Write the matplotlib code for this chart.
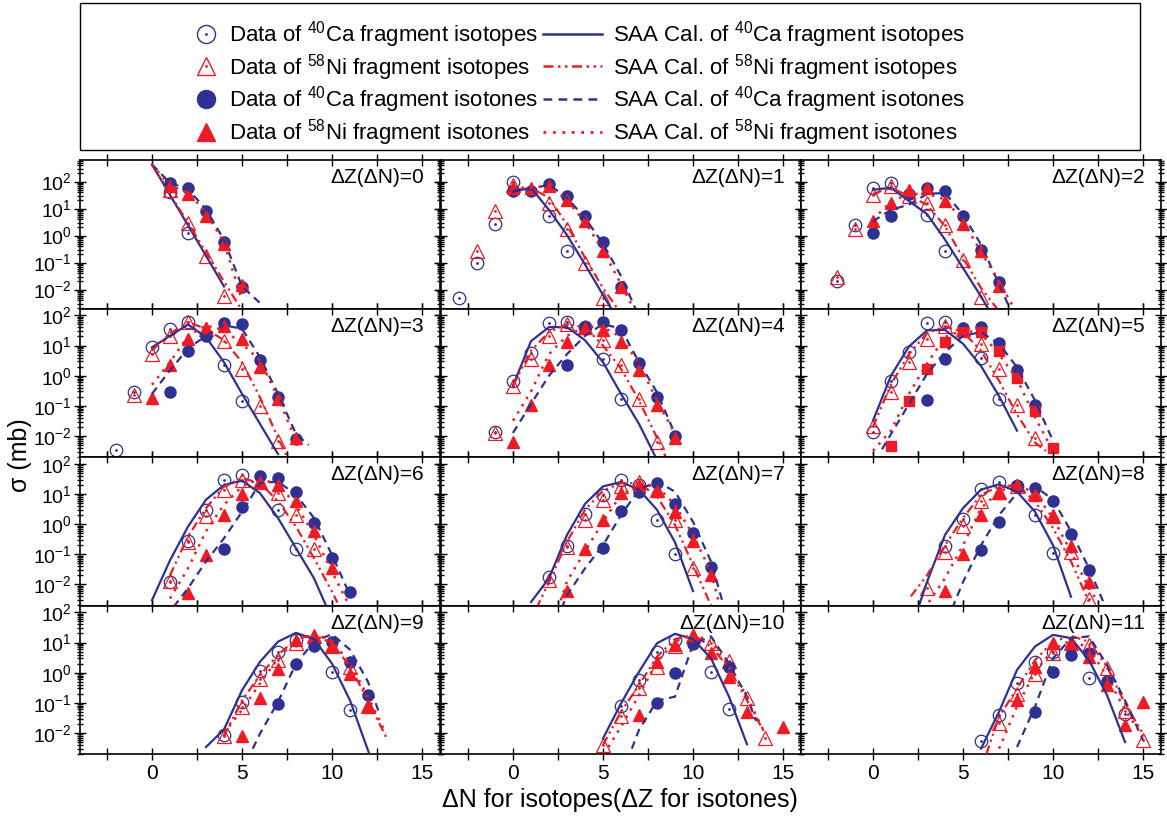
import matplotlib
matplotlib.use("Agg")
import matplotlib.pyplot as plt
import matplotlib.patches as patches
from matplotlib.lines import Line2D
from matplotlib.legend_handler import HandlerTuple
from matplotlib.ticker import MultipleLocator, LogLocator, NullFormatter
import numpy as np

plt.rcParams["font.family"] = ["Liberation Sans", "DejaVu Sans"]
plt.rcParams["mathtext.fontset"] = "custom"
plt.rcParams["mathtext.rm"] = "Liberation Sans"
plt.rcParams["mathtext.it"] = "Liberation Sans:italic"
plt.rcParams["mathtext.bf"] = "Liberation Sans:bold"

BLUE = "#2e3192"
RED = "#ed1c24"

dz = list(range(12))

# measured data, one list per panel (dZ or dN = 0..11)
ca_iso_x = [[1, 2], [-3, -2, -1, 0, 2, 3], [-2, -1, 0, 1, 3, 4], [-2, -1, 0, 1, 2, 4, 5],
            [-1, 0, 1, 2, 3, 4, 5, 6], [0, 1, 2, 3, 4, 6, 7], [1, 2, 3, 4, 5, 7, 8],
            [2, 3, 4, 5, 6, 7, 8, 9], [4, 5, 6, 7, 8, 9, 10], [4, 5, 6, 7, 8, 10, 11],
            [6, 7, 8, 9, 11, 12], [6, 7, 8, 9, 10, 12, 14]]
ca_iso_y = [[40, 1.3], [0.005, 0.1, 2.7, 100, 5.5, 0.26], [0.02, 2.4, 58, 89, 6, 0.28],
            [0.0034, 0.28, 8.8, 36, 60, 2.3, 0.14], [0.0136, 0.65, 5.5, 55, 60, 40, 3.6, 0.17],
            [0.0136, 0.65, 6, 55, 60, 3.9, 0.17], [0.0123, 0.28, 3.0, 30, 44, 3.0, 0.15],
            [0.018, 0.19, 2.1, 9, 30, 20, 1.4, 0.1], [0.19, 1.5, 15, 25, 18, 2.0, 0.11],
            [0.0083, 0.11, 1.15, 5, 12, 1.07, 0.057], [0.078, 0.57, 5, 11.7, 1.07, 0.064],
            [0.0054, 0.039, 0.47, 2.2, 5, 0.69, 0.044]]

ni_iso_x = [[1, 2, 3, 4], [-2, -1, 0, 2, 3, 4, 5], [-2, -1, 0, 1, 2, 3, 4, 5, 6],
            [-1, 0, 1, 2, 3, 4, 5, 6, 7], [-1, 0, 1, 2, 3, 4, 5, 6, 7, 8],
            [0, 1, 2, 3, 4, 5, 6, 7, 8, 9], [1, 2, 3, 4, 5, 6, 7, 8, 9],
            [2, 3, 4, 5, 6, 7, 8, 9, 10], [3, 4, 5, 6, 7, 8, 9, 10, 11, 12],
            [4, 5, 6, 7, 8, 9, 10, 11, 12], [5, 6, 7, 8, 9, 10, 11, 12, 13, 14],
            [7, 8, 9, 10, 11, 12, 13, 14, 15]]
ni_iso_y = [[50, 2.9, 0.18, 0.006], [0.26, 8.5, 78, 16, 1.8, 0.1, 0.005],
            [0.03, 1.7, 33, 70, 29, 16, 2.4, 0.13, 0.0052],
            [0.23, 5.3, 21, 60, 35, 14, 1.7, 0.1, 0.0068],
            [0.0125, 0.47, 3.6, 21, 53, 41, 15, 2.3, 0.17, 0.0065],
            [0.021, 0.28, 2.8, 17, 43, 35, 11.5, 1.7, 0.11, 0.0083],
            [0.013, 0.25, 1.8, 14, 30, 26, 10.8, 2.0, 0.15],
            [0.014, 0.17, 1.4, 6.5, 18, 25, 14, 1.4, 0.036],
            [0.0078, 0.12, 0.87, 5.7, 12, 18, 10.8, 1.8, 0.12, 0.0032],
            [0.0078, 0.07, 0.6, 2.6, 9.5, 16, 7.7, 1.6, 0.078],
            [0.0039, 0.036, 0.3, 1.6, 7.4, 16, 9.5, 2.5, 0.14, 0.0069],
            [0.021, 0.19, 0.9, 4.4, 10, 8.3, 1.4, 0.054, 0.0058]]

ca_ton_x = [[1, 2, 3, 4, 5], [0, 1, 2, 3, 4, 5, 6], [0, 1, 2, 3, 4, 5, 6, 7],
            [1, 2, 3, 4, 5, 6, 7, 8], [3, 4, 5, 6, 7, 8, 9], [3, 4, 5, 6, 7, 8, 9],
            [4, 5, 6, 7, 8, 9, 10, 11], [5, 6, 7, 8, 9, 10, 11], [6, 7, 8, 9, 10, 11, 12],
            [7, 8, 9, 10, 11, 12], [8, 9, 10, 12], [9, 10, 11, 12, 13]]
ca_ton_y = [[90, 59, 8, 0.6, 0.013], [46, 46, 82, 29, 5.3, 0.6, 0.013],
            [1.3, 5.5, 35, 58, 46, 5.3, 0.3, 0.019], [0.28, 6.5, 21, 57, 50, 3.3, 0.19, 0.0077],
            [2.3, 41, 60, 33, 2.6, 0.2, 0.01], [0.15, 3.6, 39, 41, 12, 1.5, 0.11],
            [0.15, 3.6, 39, 33, 12, 1.07, 0.074, 0.0054], [0.16, 2.8, 12, 23, 4.6, 0.5, 0.039],
            [0.14, 1.2, 18, 16, 5.7, 0.47, 0.03], [0.091, 2.0, 7.7, 10.8, 2.2, 0.18],
            [0.1, 1.0, 8.8, 1.6], [0.05, 1.07, 3.9, 4.6, 0.54]]

ni_ton_x = [[1, 2, 3, 4, 5], [0, 1, 2, 3, 4, 5, 6], [0, 1, 2, 3, 4, 5, 6, 7],
            [0, 1, 2, 3, 4, 5, 6, 7, 8], [0, 1, 2, 3, 4, 5, 6, 7, 8, 9],
            [1, 2, 3, 4, 5, 6, 7, 8, 9, 10], [2, 3, 4, 5, 6, 7, 8, 9, 10],
            [3, 4, 5, 6, 7, 8, 9, 10, 11], [4, 5, 6, 7, 8, 9, 10, 11, 12],
            [5, 6, 7, 8, 9, 10, 11, 12], [7, 8, 9, 10, 11, 12, 13, 15],
            [8, 9, 10, 11, 12, 13, 14, 15]]
ni_ton_y = [[67, 35, 5.3, 0.47, 0.015], [58, 58, 71, 21, 3.4, 0.28, 0.013],
            [3.4, 16, 50, 58, 19, 2.6, 0.28, 0.014],
            [0.18, 2.2, 17, 39, 43, 16, 2, 0.17, 0.0083],
            [0.0065, 0.11, 2.3, 13, 39, 33, 13, 1.5, 0.11, 0.0088],
            [0.0047, 0.14, 1.7, 13, 28, 28, 6.8, 0.83, 0.065, 0.0039],
            [0.005, 0.095, 2.0, 10, 26, 19.5, 5.7, 0.6, 0.034],
            [0.006, 0.15, 1.4, 10.8, 20, 13, 2.6, 0.28, 0.021],
            [0.006, 0.1, 2.0, 10.8, 20, 9.5, 1.8, 0.19, 0.012],
            [0.0078, 0.14, 1.3, 11.7, 17, 7.4, 0.9, 0.078],
            [0.039, 2.3, 8.3, 18, 4.6, 0.74, 0.048, 0.016],
            [0.12, 1.6, 9.5, 10, 3.4, 0.39, 0.018, 0.11]]

# SAA calculations
saa_ca_iso_x = [[0, 1, 2, 3, 4], [0, 1, 2, 3, 4, 5, 6], [0, 1, 2, 3, 4, 5, 6, 7],
                [0, 1, 2, 3, 4, 5, 6, 7], [0, 1, 2, 3, 4, 5, 6, 7, 8],
                [0, 1, 2, 3, 4, 5, 6, 7, 8], [0, 1, 2, 3, 4, 5, 6, 7, 8, 9, 9.7],
                [1, 2, 3, 4, 5, 6, 7, 8, 9, 10], [2.5, 3, 4, 5, 6, 7, 8, 9, 10, 11],
                [3, 4, 5, 6, 7, 8, 9, 10, 11, 12.1], [5, 6, 7, 8, 9, 10, 11, 12, 13],
                [6, 7, 8, 9, 10, 11, 12, 13, 14]]
saa_ca_iso_y = [[430, 32, 2.4, 0.18, 0.013], [42, 59, 8.9, 1.05, 0.085, 0.0063, 0.0005],
                [50, 59, 19, 6.3, 0.71, 0.063, 0.0056, 0.0004],
                [8.7, 21, 50, 19, 2.8, 0.25, 0.025, 0.0025],
                [0.47, 14, 41, 41, 15, 2.8, 0.25, 0.025, 0.0016],
                [0.032, 1.0, 9.3, 32, 33, 11.5, 2.1, 0.21, 0.015],
                [0.003, 0.063, 0.83, 6.5, 20, 28, 10.7, 1.6, 0.16, 0.016, 0.0018],
                [0.0026, 0.016, 0.44, 4.7, 18, 25, 14, 3.0, 0.25, 0.006],
                [0.0016, 0.012, 0.44, 3.4, 14, 21, 12, 2.6, 0.2, 0.0039],
                [0.0034, 0.013, 0.26, 2.3, 10.7, 21, 13, 2.0, 0.12, 0.0018],
                [0.0065, 0.095, 1.07, 9.5, 19.5, 13, 3.0, 0.16, 0.0042],
                [0.003, 0.05, 1.23, 7.4, 18, 14, 2.6, 0.18, 0.005]]

saa_ni_iso_x = [[0, 1, 2, 3, 4, 5], [0, 1, 2, 3, 4, 5, 6], [0, 1, 2, 3, 4, 5, 6, 7],
                [0, 1, 2, 3, 4, 5, 6, 7, 8], [0, 1, 2, 3, 4, 5, 6, 7, 8, 8.5],
                [0, 1, 2, 3, 4, 5, 6, 7, 8, 9, 9.6], [1, 2, 3, 4, 5, 6, 7, 8, 9, 10, 10.3],
                [1.3, 2, 3, 4, 5, 6, 7, 8, 9, 10, 11], [2.1, 3, 4, 5, 6, 7, 8, 9, 10, 11, 12],
                [4, 5, 6, 7, 8, 9, 10, 11, 12, 13], [5, 6, 7, 8, 9, 10, 11, 12, 13, 14],
                [6.3, 7, 8, 9, 10, 11, 12, 13, 14, 15]]
saa_ni_iso_y = [[430, 35, 2.9, 0.24, 0.02, 0.0017], [50, 59, 25, 2.5, 0.15, 0.0115, 0.0013],
                [35, 59, 29, 14, 2.2, 0.15, 0.0115, 0.0016],
                [6.8, 25, 60, 36, 15, 2.8, 0.19, 0.0087, 0.0005],
                [0.47, 6.8, 28, 50, 41, 10, 1.7, 0.15, 0.0087, 0.0019],
                [0.02, 0.52, 5.2, 26, 43, 28, 6.8, 0.68, 0.052, 0.006, 0.0032],
                [0.02, 0.39, 3.4, 18, 34, 23, 5.8, 0.83, 0.074, 0.0058, 0.0025],
                [0.0016, 0.012, 0.26, 3.0, 13, 23, 23, 8.3, 0.95, 0.044, 0.002],
                [0.004, 0.02, 0.2, 1.6, 9.5, 18, 19.5, 5.8, 0.74, 0.058, 0.0026],
                [0.008, 0.12, 0.83, 3.9, 13, 18, 9.5, 1.6, 0.12, 0.0074],
                [0.004, 0.05, 0.39, 3.4, 13, 18, 7.4, 1.4, 0.12, 0.0095],
                [0.002, 0.034, 0.3, 2.6, 10.7, 16.6, 10.7, 1.6, 0.095, 0.0095]]

saa_ca_ton_x = [[0, 1, 2, 3, 4, 5, 6], [0, 1, 2, 3, 4, 5, 6, 7], [0, 1, 2, 3, 4, 5, 6, 7, 8],
                [0, 1, 2, 3, 4, 5, 6, 7, 8, 8.7], [0, 1, 2, 3, 4, 5, 6, 7, 8, 9],
                [0.5, 1, 2, 3, 4, 5, 6, 7, 8, 9, 10], [1.2, 2, 3, 4, 5, 6, 7, 8, 9, 10, 11],
                [2.7, 3, 4, 5, 6, 7, 8, 9, 10, 11, 11.7], [4.4, 5, 6, 7, 8, 9, 10, 11, 12, 12.8],
                [5.6, 6, 7, 8, 9, 10, 11, 12, 12.6], [6.6, 7, 8, 9, 10, 11, 12, 13, 13.5],
                [8, 9, 10, 11, 12, 13, 14, 15]]
saa_ca_ton_y = [[430, 90, 52, 9.5, 0.7, 0.013, 0.0032],
                [47, 52, 78, 25, 4.5, 0.5, 0.032, 0.001],
                [3.4, 9, 14, 35, 38, 6, 0.47, 0.016, 0.0005],
                [0.25, 1.5, 8, 21, 47, 36, 4.1, 0.25, 0.0115, 0.005],
                [0.0126, 0.115, 1.0, 5.2, 21, 52, 36, 2.8, 0.28, 0.0115],
                [0.0036, 0.0115, 0.115, 1.15, 6, 21, 28, 11.5, 1.9, 0.15, 0.0068],
                [0.0018, 0.0074, 0.058, 0.34, 2.6, 23, 26, 9.5, 1.6, 0.095, 0.0044],
                [0.0016, 0.0044, 0.034, 0.2, 2.0, 14, 26, 12, 1.2, 0.058, 0.002],
                [0.0016, 0.012, 0.2, 2.0, 10.7, 18, 6.5, 0.58, 0.034, 0.0026],
                [0.003, 0.0095, 0.107, 2.0, 10.7, 19, 5.8, 0.5, 0.05],
                [0.003, 0.0126, 0.117, 0.16, 8.9, 16, 2.0, 0.16, 0.025],
                [0.0034, 0.074, 3.0, 14, 16, 1.8, 0.12, 0.0058]]

saa_ni_ton_x = [[0, 1, 2, 3, 4, 5], [0, 1, 2, 3, 4, 5, 6, 7], [0, 1, 2, 3, 4, 5, 6, 7, 8],
                [0, 1, 2, 3, 4, 5, 6, 7, 8], [0, 1, 2, 3, 4, 5, 6, 7, 8, 9],
                [0, 1, 2, 3, 4, 5, 6, 7, 8, 9, 10], [1, 2, 3, 4, 5, 6, 7, 8, 9, 10, 11],
                [2.5, 3, 4, 5, 6, 7, 8, 9, 10, 11, 11.5], [3.1, 4, 5, 6, 7, 8, 9, 10, 11, 12, 12.5],
                [4, 5, 6, 7, 8, 9, 10, 11, 12, 13], [5.3, 6, 7, 8, 9, 10, 11, 12, 13, 14],
                [7, 8, 9, 10, 11, 12, 13, 14, 15]]
saa_ni_ton_y = [[430, 70, 40, 7, 0.56, 0.004], [59, 59, 71, 20, 3.2, 0.28, 0.016, 0.0008],
                [4, 18, 35, 35, 22, 3.5, 0.25, 0.02, 0.0013],
                [0.5, 2.8, 21, 47, 32, 11.5, 3.2, 0.19, 0.0068],
                [0.032, 0.3, 5.2, 21, 43, 41, 19, 2.5, 0.15, 0.0115],
                [0.0032, 0.015, 0.25, 2.5, 19, 33, 25, 5.2, 0.78, 0.041, 0.0032],
                [0.0034, 0.034, 0.58, 4.4, 18, 32, 21, 4.4, 0.44, 0.026, 0.0018],
                [0.0016, 0.0126, 0.126, 1.2, 9.5, 21, 18, 4.4, 0.44, 0.026, 0.0018],
                [0.0026, 0.016, 0.2, 3.4, 12, 21, 10.7, 1.6, 0.12, 0.0074, 0.0026],
                [0.01, 0.058, 0.44, 3.0, 12, 19, 12, 2.0, 0.16, 0.0095],
                [0.0034, 0.016, 0.18, 2.3, 10.7, 19, 10.7, 1.6, 0.16, 0.0095],
                [0.003, 0.074, 1.07, 5.8, 12, 6.5, 0.74, 0.058, 0.0074]]

W, H = 1167, 819
fig = plt.figure(figsize=(W / 100, H / 100), dpi=100)

col_left = [80, 441, 801]
row_top = [160, 308.5, 457, 605.5]
pw, ph = 360, 148.5

ls_ca_ton = (0, (3.5, 2.5))
ls_ni_iso = (0, (4, 1.8, 1, 1.8, 1, 1.8))
ls_ni_ton = (0, (1, 2.4))

for i, k in enumerate(dz):
    r, c = divmod(i, 3)
    ax = fig.add_axes([col_left[c] / W, 1 - (row_top[r] + ph) / H, pw / W, ph / H])
    ax.set_yscale("log")
    ax.set_xlim(-4, 16)
    if r == 0:
        ax.set_ylim(10 ** -2.7, 10 ** 2.8)
    else:
        ax.set_ylim(10 ** -2.7, 10 ** 2.23)

    ax.plot(ca_iso_x[i], ca_iso_y[i], "o", mfc="none", mec=BLUE, ms=9, mew=0.9, zorder=2)
    ax.plot(ca_iso_x[i], ca_iso_y[i], ".", color=BLUE, ms=2, zorder=2)
    ax.plot(ni_iso_x[i], ni_iso_y[i], "^", mfc="none", mec=RED, ms=9.5, mew=0.9, zorder=2)
    ax.plot(ni_iso_x[i], ni_iso_y[i], ".", color=RED, ms=2, zorder=2)
    ax.plot(ca_ton_x[i], ca_ton_y[i], "o", color=BLUE, ms=8, zorder=2)
    if k == 5:
        ax.plot(ni_ton_x[i], ni_ton_y[i], "s", color=RED, ms=7, zorder=2)
    else:
        ax.plot(ni_ton_x[i], ni_ton_y[i], "^", color=RED, ms=9, zorder=2)

    ax.plot(saa_ca_iso_x[i], saa_ca_iso_y[i], color=BLUE, lw=1.6, zorder=3)
    ax.plot(saa_ni_iso_x[i], saa_ni_iso_y[i], color=RED, lw=1.6, ls=ls_ni_iso, zorder=3)
    ax.plot(saa_ca_ton_x[i], saa_ca_ton_y[i], color=BLUE, lw=1.6, ls=ls_ca_ton, zorder=3)
    ax.plot(saa_ni_ton_x[i], saa_ni_ton_y[i], color=RED, lw=1.8, ls=ls_ni_ton, zorder=3)

    ax.text(0.955, 0.945, "ΔZ(ΔN)=%d" % k, transform=ax.transAxes, ha="right", va="top",
            fontsize=15)

    ax.xaxis.set_major_locator(MultipleLocator(5))
    ax.xaxis.set_minor_locator(MultipleLocator(2.5))
    ax.yaxis.set_major_locator(LogLocator(base=10, numticks=12))
    ax.yaxis.set_minor_locator(LogLocator(base=10, subs=np.arange(2, 10), numticks=12))
    ax.yaxis.set_minor_formatter(NullFormatter())
    ax.tick_params(which="both", direction="inout", top=True, right=True, width=1)
    ax.tick_params(axis="x", which="both", length=8)
    ax.tick_params(axis="y", which="major", length=8)
    ax.tick_params(axis="y", which="minor", length=4)
    ax.tick_params(axis="x", labelsize=15)
    ax.tick_params(axis="y", labelsize=14, pad=2)
    ax.tick_params(labelbottom=(r == 3), labelleft=(c == 0))
    for s in ax.spines.values():
        s.set_linewidth(1.2)

fig.text(20 / W, 1 - 455 / H, "σ (mb)", rotation=90, ha="center", va="center", fontsize=18)
fig.text(620 / W, 1 - 800 / H, "ΔN for isotopes(ΔZ for isotones)", ha="center", va="center",
         fontsize=18)

# legend box
fig.patches.append(patches.Rectangle((80 / W, 1 - 150 / H), 1060 / W, 147 / H, fill=False,
                                     lw=1, edgecolor="black", transform=fig.transFigure))

h_data = [
    (Line2D([], [], ls="none", marker="o", mfc="none", mec=BLUE, ms=13, mew=1),
     Line2D([], [], ls="none", marker=".", color=BLUE, ms=2)),
    (Line2D([], [], ls="none", marker="^", mfc="none", mec=RED, ms=13, mew=1),
     Line2D([], [], ls="none", marker=".", color=RED, ms=2)),
    Line2D([], [], ls="none", marker="o", color=BLUE, ms=13),
    Line2D([], [], ls="none", marker="^", color=RED, ms=13),
]
l_data = ["Data of $^{40}$Ca fragment isotopes", "Data of $^{58}$Ni fragment isotopes",
          "Data of $^{40}$Ca fragment isotones", "Data of $^{58}$Ni fragment isotones"]
h_saa = [
    Line2D([], [], color=BLUE, lw=1.8),
    Line2D([], [], color=RED, lw=1.8, ls=ls_ni_iso),
    Line2D([], [], color=BLUE, lw=1.8, ls=ls_ca_ton),
    Line2D([], [], color=RED, lw=2, ls=ls_ni_ton),
]
l_saa = ["SAA Cal. of $^{40}$Ca fragment isotopes", "SAA Cal. of $^{58}$Ni fragment isotopes",
         "SAA Cal. of $^{40}$Ca fragment isotones", "SAA Cal. of $^{58}$Ni fragment isotones"]

leg1 = fig.legend(h_data, l_data, loc="upper left", bbox_to_anchor=(189 / W, 1 - 19 / H),
                  frameon=False, fontsize=16, handlelength=1.5, handletextpad=0.3,
                  labelspacing=0.08, borderpad=0, borderaxespad=0,
                  handler_map={tuple: HandlerTuple(ndivide=1)})
leg2 = fig.legend(h_saa, l_saa, loc="upper left", bbox_to_anchor=(543 / W, 1 - 19 / H),
                  frameon=False, fontsize=16, handlelength=2.65, handletextpad=0.5,
                  labelspacing=0.08, borderpad=0, borderaxespad=0)

fig.savefig("out.png", dpi=100)
